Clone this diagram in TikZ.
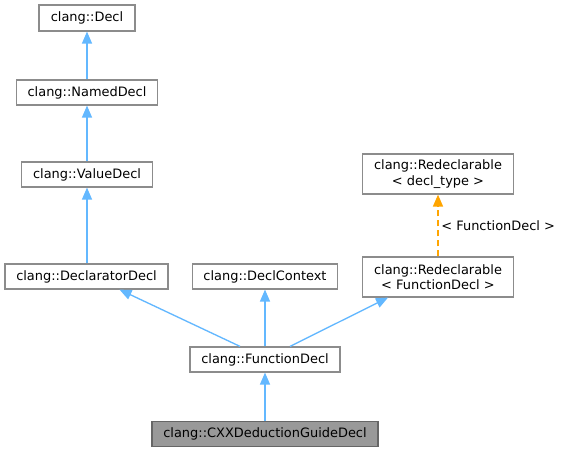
\documentclass[tikz,border=0pt]{standalone}
\usepackage{fontspec}
\setmainfont{DejaVu Sans}
\usetikzlibrary{arrows.meta,calc}
\definecolor{edgeblue}{HTML}{63B8FF}
\definecolor{edgeorange}{HTML}{FFA500}
\definecolor{boxline}{HTML}{8C8C8C}
\definecolor{curfill}{HTML}{999999}
\definecolor{curline}{HTML}{666666}
\tikzset{
  cls/.style={draw=boxline, line width=0.9pt, fill=white, inner sep=0pt, align=center,
    font=\fontsize{9.7}{11.5}\selectfont, text=black},
  cur/.style={cls, draw=curline, fill=curfill},
  inh/.style={color=edgeblue, line width=1pt, -{Triangle[length=9pt,width=7.5pt]}},
  tmpl/.style={color=edgeorange, line width=1.1pt, dash pattern=on 4.5pt off 3pt, -{Triangle[length=9pt,width=7.5pt]}},
}
\begin{document}
\begin{tikzpicture}[x=0.75pt,y=-0.75pt]
\useasboundingbox[fill=white] (0,0) rectangle (561,452);
\node[cls, minimum width=96*0.75pt, minimum height=26*0.75pt] (decl) at (87,18) {clang::Decl};
\node[cls, minimum width=141*0.75pt, minimum height=25*0.75pt] (named) at (87,92.5) {clang::NamedDecl};
\node[cls, minimum width=131*0.75pt, minimum height=25*0.75pt] (value) at (87,174.5) {clang::ValueDecl};
\node[cls, minimum width=163*0.75pt, minimum height=25*0.75pt] (declarator) at (86.5,276.5) {clang::DeclaratorDecl};
\node[cls, minimum width=145*0.75pt, minimum height=25*0.75pt] (ctx) at (265,276.5) {clang::DeclContext};
\node[cls, minimum width=151*0.75pt, minimum height=40*0.75pt] (rdt) at (438,174) {clang::Redeclarable\\\textless{} decl\_type \textgreater{}};
\node[cls, minimum width=151*0.75pt, minimum height=40*0.75pt] (rfd) at (438,277) {clang::Redeclarable\\\textless{} FunctionDecl \textgreater{}};
\node[cls, minimum width=150*0.75pt, minimum height=25*0.75pt] (fd) at (265,359.5) {clang::FunctionDecl};
\node[cur, minimum width=226*0.75pt, minimum height=25*0.75pt] (cxx) at (265,434) {clang::CXXDeductionGuideDecl};
\draw[inh] (named) -- (decl);
\draw[inh] (value) -- (named);
\draw[inh] ($(declarator.north)+(0.5,0)$) -- (value);
\draw[inh] ($(fd.north)+(-25,0)$) -- ($(declarator.south)+(33,0)$);
\draw[inh] (fd) -- (ctx);
\draw[inh] ($(fd.north)+(25,0)$) -- ($(rfd.south)+(-50,0)$);
\draw[inh] (cxx) -- (fd);
\draw[tmpl] (rfd) -- node[right, inner sep=2pt, text=black, font=\fontsize{9.7}{11.5}\selectfont] (lbl) {\textless{} FunctionDecl \textgreater{}} (rdt);
\end{tikzpicture}
\end{document}
